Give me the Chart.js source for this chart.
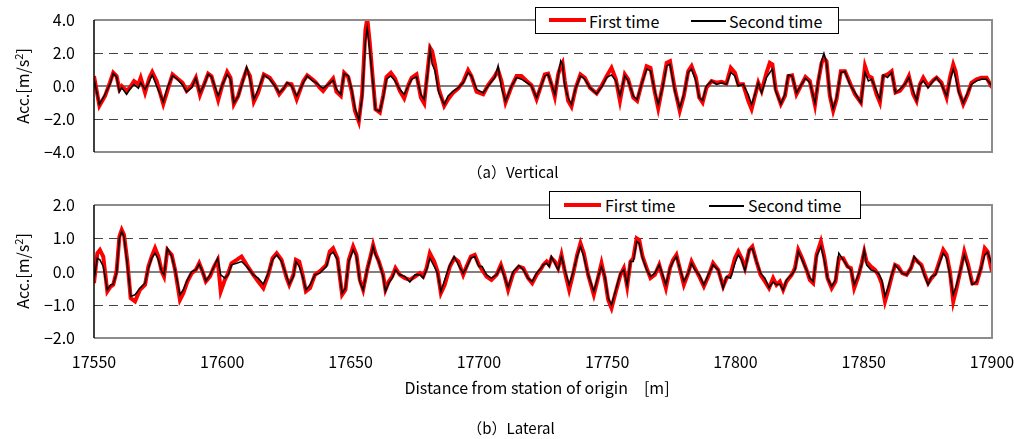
<!DOCTYPE html>
<html>
<head>
<meta charset="utf-8">
<script src="https://cdn.jsdelivr.net/npm/chart.js@4.4.0/dist/chart.umd.min.js"></script>
<style>
  body { margin: 0; background: #fff; font-family: "Noto Sans CJK JP", "Noto Sans", sans-serif; color: #000; }
  #page { position: relative; width: 1014px; height: 439px; overflow: hidden; }
  canvas { position: absolute; left: 0; }
  .ytitle { position: absolute; left: 22px; font-size: 16px; white-space: nowrap; transform: translate(-50%, -50%) rotate(-90deg); }
  .ytitle sup { font-size: 11px; vertical-align: 6px; line-height: 0; }
  .caption { position: absolute; font-size: 15px; white-space: nowrap; transform: translate(-50%, -50%); }
  .legend { position: absolute; border: 1px solid #000; background: #fff; box-sizing: border-box; }
  .legend .ln { position: absolute; }
  .legend .tx { position: absolute; top: 50%; transform: translateY(-50%); font-size: 16px; white-space: nowrap; }
</style>
</head>
<body>
<div id="page">
  <canvas id="chartA" width="1014" height="175" style="top:0"></canvas>
  <canvas id="chartB" width="1014" height="264" style="top:175px"></canvas>

  <div class="ytitle" style="top:86px">Acc.[m/s<sup>2</sup>]</div>
  <div class="ytitle" style="top:271px">Acc.[m/s<sup>2</sup>]</div>

  <div class="caption" style="left:513px; top:171px">（a）Vertical</div>
  <div class="caption" style="left:537px; top:387px; font-size:16px">Distance from station of origin　[m]</div>
  <div class="caption" style="left:511px; top:427px">（b）Lateral</div>

  <div class="legend" style="left:535px; top:7px; width:304px; height:27px">
    <div class="ln" style="left:13px; top:10px; width:37px; height:4px; background:#ff0000"></div>
    <div class="tx" style="left:53px">First time</div>
    <div class="ln" style="left:155px; top:12px; width:35px; height:1.5px; background:#000"></div>
    <div class="tx" style="left:193px">Second time</div>
  </div>
  <div class="legend" style="left:549px; top:191px; width:312px; height:28px">
    <div class="ln" style="left:14px; top:11px; width:37px; height:4px; background:#ff0000"></div>
    <div class="tx" style="left:55px">First time</div>
    <div class="ln" style="left:159px; top:13px; width:35px; height:1.5px; background:#000"></div>
    <div class="tx" style="left:198px">Second time</div>
  </div>
</div>

<script>
// Distance axis
const xMin = 17550;
const xMax = 17900;
const xStep = 50;

// (a) Vertical acceleration
const distA = [
  17550, 17552.1, 17554.3, 17556.2, 17557.5, 17558.8, 17559.9, 17560.8, 17562.7, 17564,
  17565.6, 17567.3, 17568.2, 17569.9, 17571.6, 17572.7, 17574.4, 17577, 17578.6, 17580.6,
  17582.5, 17584.5, 17586.1, 17588.1, 17589.7, 17591.3, 17592.9, 17594.5, 17595.8, 17598.4,
  17600.1, 17601.9, 17603.2, 17604.5, 17606.2, 17607.9, 17609.5, 17610.8, 17612.3, 17614,
  17616.2, 17618.5, 17620.5, 17622.2, 17623.7, 17625.3, 17627, 17629, 17631.6, 17633.1,
  17635.2, 17636.5, 17638, 17639.3, 17641.3, 17643.2, 17644.5, 17646.2, 17647.5, 17649.1,
  17650.4, 17651.7, 17653.2, 17654.5, 17655.8, 17656.5, 17657.5, 17658.4, 17659.7, 17661.4,
  17662.7, 17664, 17665.7, 17667.3, 17669.2, 17670.9, 17672.5, 17673.8, 17675.7, 17677.4,
  17678.7, 17680, 17681, 17681.8, 17682.9, 17684.4, 17686.5, 17688, 17690, 17692,
  17693.9, 17695.8, 17697.1, 17699.1, 17701.7, 17703.6, 17706.2, 17707.5, 17708.8, 17710.4,
  17712.7, 17714.7, 17716.6, 17718.6, 17720.5, 17722.5, 17724, 17725.7, 17727, 17728.3,
  17729.6, 17730.9, 17731.9, 17732.6, 17733.5, 17734.8, 17736.1, 17737.8, 17739.6, 17741.3,
  17743.3, 17745.9, 17747.8, 17749.8, 17751.7, 17753.4, 17755, 17756.9, 17758.2, 17760.2,
  17761.7, 17763.4, 17765.4, 17766.9, 17768.6, 17769.9, 17771.6, 17773.2, 17774.5, 17776.4,
  17778.3, 17779.9, 17781.6, 17782.9, 17784.6, 17785.9, 17787.2, 17788.7, 17790.7, 17792.6,
  17794.6, 17796.5, 17798.2, 17799.8, 17801.1, 17803, 17805, 17806.3, 17807.6, 17808.9,
  17810.2, 17812.1, 17813.4, 17814.4, 17815.7, 17817.7, 17819.3, 17820.6, 17822.1, 17823.8,
  17825.8, 17827.3, 17829, 17831, 17832.3, 17833.6, 17834.5, 17835.5, 17836.8, 17838.1,
  17839.4, 17841.1, 17842.7, 17844.6, 17846.6, 17848.9, 17850.5, 17851.8, 17853.1, 17855,
  17856.3, 17857.6, 17859.3, 17860.9, 17862.4, 17864.1, 17866, 17867.6, 17869.3, 17870.6,
  17871.9, 17873.2, 17875.1, 17877.1, 17878.4, 17880.3, 17882.3, 17883.6, 17884.9, 17885.8,
  17887.1, 17888.8, 17890.5, 17892, 17894, 17895.9, 17897.9, 17900
];
const firstA = [
  0.6, -1.2, -0.6, 0.2, 0.8, 0.6, -0.2, 0, -0.3, -0.1,
  0.3, 0.1, 0.5, -0.4, 0.5, 0.85, 0.3, -1.1, -0.3, 0.7,
  0.45, 0.2, -0.3, 0, 0.5, -0.55, 0.1, 0.75, 0.6, -0.85,
  0.1, 0.85, 0.5, -1.1, -0.6, 0.3, 1.0, 0.6, -0.95, -0.4,
  0.7, 0.5, 0.05, -0.5, -0.2, 0.15, 0.1, -0.8, 0.3, 0.65,
  0.4, 0.2, -0.1, -0.3, 0.1, 0.45, -0.35, -0.6, 0.8, 0.55,
  -0.3, -1.5, -2.15, -0.5, 3.4, 4.1, 2.6, 0.9, -1.4, -1.6,
  -0.6, 0.55, 0.8, 0.45, -0.3, -0.75, 0.05, 0.5, 0.7, -0.7,
  -1.05, 0.9, 2.3, 2.1, 1.3, -0.2, -1.2, -0.8, -0.4, -0.15,
  0.25, 0.95, 0.6, -0.35, -0.5, 0.05, 0.6, 0.95, 0.3, -1.0,
  -0.05, 0.6, 0.6, 0.3, 0.05, -0.8, -0.1, 0.7, 0.75, 0.1,
  -0.65, 0.7, 1.2, 1.4, 0.3, -0.9, -1.25, -0.1, 0.7, 0.5,
  -0.1, -0.45, 0, 0.6, 1.1, 0.4, -0.9, 0.7, 0.4, -0.7,
  -0.9, 0.1, 1.2, 1.1, -0.4, -1.35, 0, 1.4, 1.5, -0.2,
  -1.5, -0.6, 0.9, 1.2, 0.5, -0.7, -1.0, -0.1, 0.3, 0.2,
  0.25, 0.15, 1.1, 0.8, 0.1, 0.1, -0.9, -1.4, -0.6, 0.2,
  -0.3, 0.8, 1.4, 1.3, -0.2, -1.1, -0.6, 0.6, 0.65, -0.5,
  0.1, 0.55, 0.3, -1.15, 0.3, 1.4, 1.7, 1.5, -0.6, -1.5,
  -0.8, 0.9, 0.9, 0.2, -0.5, -1.0, 1.2, 0.6, 0.5, -0.5,
  -1.0, 0.6, 0.7, 0.9, -0.4, -0.3, 0.1, 0.6, -0.5, -0.9,
  0.1, 0.5, 0, 0.35, 0.5, 0.2, -0.7, 0.5, 1.3, 0.9,
  -0.3, -1.1, -0.5, 0.2, 0.4, 0.5, 0.5, -0.1
];
const secondA = [
  0.41, -1.12, -0.51, 0.1, 0.76, 0.55, -0.35, -0.1, -0.51, -0.2,
  0.1, -0.14, 0.2, -0.2, 0.3, 0.67, 0, -0.96, -0.1, 0.63,
  0.41, 0.06, -0.35, -0.1, 0.47, -0.41, 0.06, 0.71, 0.55, -0.61,
  0.1, 0.71, 0.41, -1.02, -0.61, 0.2, 1.16, 0.41, -0.82, -0.2,
  0.67, 0.41, 0, -0.41, -0.2, 0.2, 0, -0.61, 0.2, 0.61,
  0.31, 0.2, 0, -0.14, 0.1, 0.35, -0.2, -0.51, 0.76, 0.61,
  -0.2, -1.33, -2.04, -0.71, 2.76, 3.5, 2.14, 0.71, -1.43, -1.53,
  -0.71, 0.41, 0.61, 0.31, -0.2, -0.51, 0, 0.41, 0.55, -0.51,
  -0.82, 0.71, 2.24, 1.33, 0.92, -0.41, -1.12, -0.61, -0.31, -0.1,
  0.2, 0.82, 0.61, -0.2, -0.41, 0, 0.51, 1.22, -0.1, -0.92,
  0, 0.51, 0.41, 0.2, 0, -0.71, -0.1, 0.61, 0.71, 0.1,
  -0.51, 0.61, 1.53, 1.33, 0, -0.71, -1.12, -0.1, 0.61, 0.41,
  -0.1, -0.47, -0.06, 0.51, 0.67, 0.31, -0.61, 0.61, 0.31, -0.61,
  -0.82, 0.1, 1.02, 0.92, -0.31, -1.12, -0.1, 1.22, 1.33, -0.31,
  -1.33, -0.51, 0.82, 1.02, 0.31, -0.71, -0.88, 0, 0.31, 0.1,
  0.2, 0.1, 0.82, 0.61, 0, 0.1, -0.51, -1.12, -0.51, 0.2,
  -0.41, 0.51, 0.82, 1.02, -0.31, -1.08, -0.51, 0.67, 0.61, -0.41,
  0.1, 0.47, 0.2, -1.02, 0.31, 1.53, 1.98, 1.43, -0.51, -1.37,
  -0.71, 0.82, 0.88, 0.1, -0.41, -1.02, 0.82, 0.31, 0.41, -0.31,
  -0.82, 0.67, 0.51, 0.82, -0.41, -0.2, 0.1, 0.51, -0.31, -0.88,
  0.1, 0.31, -0.1, 0.31, 0.51, 0.1, -0.61, 0.31, 1.02, 0.51,
  -0.41, -1.02, -0.41, 0.1, 0.31, 0.41, 0.41, 0
];

// (b) Lateral acceleration
const distB = [
  17550, 17551.3, 17552.3, 17553.6, 17555.2, 17556.5, 17557.5, 17558.8, 17559.9, 17560.8,
  17561.7, 17563, 17564.3, 17566, 17567.9, 17569.9, 17571.2, 17572.5, 17573.8, 17575.1,
  17576.4, 17577.3, 17578.6, 17580.3, 17581.6, 17583.5, 17584.8, 17586.4, 17588.1, 17589.7,
  17591, 17592.3, 17593.6, 17595.2, 17596.8, 17598.2, 17599.4, 17601, 17602.3, 17603.6,
  17605.6, 17607.5, 17609.5, 17612.1, 17614, 17616, 17617.9, 17619.6, 17621.2, 17623.1,
  17625.1, 17626.1, 17627.7, 17628.7, 17630, 17631.3, 17632.6, 17634.2, 17636.1, 17638,
  17639.3, 17640.6, 17641.9, 17643.2, 17644.9, 17646.7, 17648, 17649.3, 17651, 17652.3,
  17653.6, 17654.9, 17656.6, 17657.9, 17658.8, 17659.7, 17661, 17662.7, 17663.6, 17664.9,
  17666.2, 17667.5, 17669.2, 17671.2, 17673.1, 17675.1, 17677, 17678.3, 17679.6, 17680.9,
  17682.6, 17683.9, 17685.2, 17686.7, 17688.7, 17690.4, 17692, 17693.9, 17695.2, 17696.9,
  17698.4, 17700, 17701.3, 17703, 17704.9, 17706.9, 17708.6, 17709.9, 17711.4, 17713.4,
  17715.6, 17717.3, 17719.2, 17720.8, 17722.5, 17724.4, 17725.1, 17726.4, 17727.4, 17728.3,
  17729.6, 17730.9, 17732.2, 17733.5, 17735.2, 17736.8, 17738.3, 17739.6, 17740.9, 17742.6,
  17744.8, 17746.1, 17747.8, 17749.1, 17750.4, 17751.7, 17753.4, 17755.2, 17756.5, 17757.8,
  17759.1, 17760.2, 17761.5, 17762.5, 17763.8, 17765.4, 17766.9, 17768.6, 17770.3, 17771.6,
  17772.9, 17774.5, 17775.7, 17777, 17778.3, 17779.9, 17781.6, 17782.9, 17784.2, 17785.9,
  17787.7, 17789.4, 17791.3, 17793.3, 17795.2, 17796.5, 17798.1, 17799.8, 17801.1, 17802.4,
  17803.7, 17805.4, 17806.6, 17808.2, 17809.8, 17811.5, 17813.1, 17814.7, 17816, 17817.3,
  17818.6, 17819.9, 17821.9, 17823.2, 17824.5, 17826, 17827.7, 17829, 17830.3, 17831.6,
  17833.3, 17834.6, 17835.9, 17837.5, 17839, 17840.3, 17842, 17843.7, 17845, 17846.3,
  17847.9, 17849.2, 17850.2, 17851.1, 17852.8, 17854.4, 17855.7, 17857, 17858.3, 17859.6,
  17860.9, 17862.2, 17863.4, 17865, 17866.7, 17868.4, 17869.7, 17871, 17872.5, 17873.8,
  17875.1, 17876.4, 17878, 17879.3, 17881, 17882.3, 17883.6, 17884.9, 17886.2, 17887.9,
  17889.2, 17890.7, 17892.3, 17894, 17895.7, 17897.2, 17898.3, 17900
];
const firstB = [
  -0.35, 0.55, 0.65, 0.45, -0.6, -0.45, -0.4, 0, 1.05, 1.25,
  1.1, 0.3, -0.8, -0.9, -0.55, -0.4, 0.15, 0.45, 0.7, 0.45,
  0, -0.15, 0.65, 0.5, 0.05, -0.85, -0.65, -0.3, -0.05, 0.05,
  0.25, 0, -0.3, -0.15, 0.15, 0.35, -0.6, -0.25, -0.05, 0.25,
  0.35, 0.45, 0.2, -0.1, -0.3, -0.5, -0.1, 0.4, 0.55, 0.35,
  -0.2, -0.4, -0.1, 0.35, 0.3, -0.1, -0.6, -0.5, -0.1, 0,
  0.1, 0.2, 0.6, 0.7, 0.4, -0.7, -0.55, 0.35, 0.75, 0.5,
  -0.25, -0.55, 0.1, 0.5, 0.8, 0.55, 0.3, -0.1, -0.55, -0.3,
  -0.15, 0.1, -0.1, -0.2, -0.25, -0.15, -0.05, -0.15, 0.1, 0.55,
  0.3, 0, -0.65, -0.4, 0.15, 0.4, 0.3, -0.1, 0.15, 0.45,
  0.5, 0.2, 0.05, -0.15, -0.25, -0.1, 0.2, -0.1, -0.55, -0.05,
  0.15, 0.1, -0.2, -0.35, -0.1, 0.1, 0.2, 0.3, 0.2, 0.4,
  0.3, 0.1, 0.5, 0, -0.55, -0.05, 0.5, 0.85, 0.55, -0.1,
  -0.7, -0.3, 0.25, -0.2, -0.85, -1.1, -0.6, -0.1, 0.1, -0.45,
  0.3, 0.4, 1.0, 0.95, 0.45, 0.1, -0.2, -0.1, 0.2, -0.15,
  -0.5, 0.1, 0.35, 0.5, 0.1, -0.4, -0.05, 0.3, 0.1, -0.15,
  -0.45, -0.15, 0.25, 0.05, -0.45, -0.2, -0.1, 0.4, 0.6, 0.4,
  0.1, 0.65, 0.75, 0.3, -0.1, -0.3, -0.5, -0.2, -0.4, -0.3,
  -0.55, -0.3, -0.1, 0.1, 0.65, 0.4, 0.05, -0.25, -0.35, 0.5,
  0.9, 0.45, -0.2, -0.5, -0.3, 0.4, 0.4, 0.15, 0.1, -0.5,
  -0.15, 0.25, 0.6, 0.3, 0.15, 0.05, -0.1, -0.35, -0.9, -0.55,
  -0.15, 0.2, 0.15, -0.05, -0.1, 0.1, 0.4, 0.3, 0.2, -0.1,
  -0.35, -0.2, -0.05, 0.25, 0.65, 0.5, 0, -0.9, -0.5, 0.1,
  0.6, 0.2, -0.35, -0.35, 0.1, 0.7, 0.6, 0
];
const secondB = [
  -0.25, 0.4, 0.35, 0.15, -0.55, -0.4, -0.38, -0.05, 1.0, 1.2,
  1.05, 0.2, -0.75, -0.7, -0.5, -0.35, 0.1, 0.4, 0.55, 0.35,
  0, -0.1, 0.7, 0.45, 0.05, -0.7, -0.55, -0.25, 0, 0.05,
  0.22, 0, -0.28, -0.1, 0.15, 0.4, -0.1, -0.2, -0.1, 0.2,
  0.25, 0.3, 0.15, -0.1, -0.2, -0.38, -0.05, 0.35, 0.5, 0.3,
  -0.15, -0.38, -0.15, 0.3, 0.15, -0.15, -0.55, -0.4, -0.1, -0.05,
  0.05, 0.15, 0.5, 0.58, 0.35, -0.65, -0.5, 0.3, 0.65, 0.45,
  -0.3, -0.55, 0.1, 0.45, 0.75, 0.5, 0.3, -0.15, -0.6, -0.35,
  -0.2, 0.05, -0.1, -0.15, -0.32, -0.1, -0.1, -0.2, 0.05, 0.4,
  0.15, -0.05, -0.6, -0.25, 0.2, 0.45, 0.2, -0.05, 0.12, 0.4,
  0.45, 0.15, 0.15, -0.1, -0.2, -0.1, 0.15, -0.15, -0.48, 0,
  0.18, 0.05, -0.2, -0.3, -0.05, 0.12, 0.2, 0.25, 0.15, 0.45,
  0.25, 0.05, 0.45, 0.05, -0.4, 0, 0.45, 0.75, 0.45, -0.1,
  -0.6, -0.25, 0.15, -0.15, -0.8, -1.0, -0.55, -0.05, 0.05, -0.4,
  0.3, 0.3, 0.9, 0.85, 0.4, 0.05, -0.15, -0.05, 0.2, -0.1,
  -0.4, 0.1, 0.3, 0.45, 0.1, -0.3, -0.05, 0.25, 0.05, -0.1,
  -0.4, -0.1, 0.2, 0.05, -0.5, -0.15, -0.2, 0.25, 0.5, 0.35,
  0.02, 0.65, 0.7, 0.3, -0.05, -0.2, -0.48, -0.32, -0.4, -0.38,
  -0.55, -0.25, -0.1, 0.05, 0.6, 0.35, 0.05, -0.2, -0.3, 0.45,
  0.75, 0.35, -0.2, -0.45, -0.25, 0.55, 0.35, 0.15, 0.05, -0.4,
  -0.1, 0.2, 0.65, 0.2, 0.05, 0, -0.05, -0.25, -0.75, -0.45,
  -0.1, 0.2, 0.1, -0.05, -0.1, 0.1, 0.45, 0.3, 0.15, -0.15,
  -0.4, -0.15, -0.1, 0.2, 0.55, 0.4, -0.1, -0.7, -0.4, 0.1,
  0.5, 0.1, -0.4, -0.3, 0.1, 0.5, 0.58, 0.2
];

// Plot area frame, zero line and dashed grid lines
const frameLines = {
    id: 'frameLines',
    beforeDatasetsDraw(chart, args, opts) {
        const { ctx, chartArea: a, scales: { y } } = chart;
        ctx.save();
        ctx.strokeStyle = '#444';
        ctx.lineWidth = 1;
        ctx.setLineDash([9, 6]);
        opts.dashed.forEach(v => {
            const py = Math.round(y.getPixelForValue(v)) + 0.5;
            ctx.beginPath();
            ctx.moveTo(a.left, py);
            ctx.lineTo(a.right, py);
            ctx.stroke();
        });
        ctx.setLineDash([]);
        ctx.strokeStyle = '#808080';
        ctx.lineWidth = 2;
        const z = Math.round(y.getPixelForValue(0));
        ctx.beginPath();
        ctx.moveTo(a.left, z);
        ctx.lineTo(a.right, z);
        ctx.stroke();
        ctx.restore();
    },
    afterDatasetsDraw(chart) {
        const { ctx, chartArea: a } = chart;
        ctx.save();
        ctx.strokeStyle = '#8c8c8c';
        ctx.lineWidth = 2;
        ctx.beginPath();
        ctx.moveTo(a.left, a.top);
        ctx.lineTo(a.right, a.top);
        ctx.lineTo(a.right, a.bottom);
        ctx.lineTo(a.left, a.bottom);
        ctx.stroke();
        ctx.strokeStyle = '#000';
        ctx.lineWidth = 1.5;
        ctx.beginPath();
        ctx.moveTo(a.left, a.top);
        ctx.lineTo(a.left, a.bottom);
        ctx.stroke();
        ctx.restore();
    }
};

const fmt = v => v.toFixed(1).replace('-', '\u2212');

function makeChart(id, dist, first, second, cfg) {
    const ctx = document.getElementById(id).getContext('2d');
    return new Chart(ctx, {
        type: 'line',
        data: {
            datasets: [{
                label: 'First time',
                data: dist.map((d, i) => ({ x: d, y: first[i] })),
                borderColor: '#ff0000',
                borderWidth: 4,
                pointRadius: 0,
                order: 2
            }, {
                label: 'Second time',
                data: dist.map((d, i) => ({ x: d, y: second[i] })),
                borderColor: '#000000',
                borderWidth: 1.5,
                pointRadius: 0,
                order: 1
            }]
        },
        plugins: [frameLines],
        options: {
            responsive: false,
            animation: false,
            devicePixelRatio: 1,
            layout: { padding: cfg.padding },
            plugins: {
                legend: { display: false },
                tooltip: { enabled: false },
                frameLines: { dashed: cfg.dashed }
            },
            scales: {
                x: {
                    type: 'linear',
                    min: xMin,
                    max: xMax,
                    grid: { display: false, drawTicks: false },
                    border: { display: false },
                    ticks: {
                        display: cfg.showX,
                        stepSize: xStep,
                        autoSkip: false,
                        maxRotation: 0,
                        padding: 14,
                        color: '#000',
                        font: { family: '"Noto Sans CJK JP", sans-serif', size: 16 },
                        callback: v => String(v)
                    },
                    afterFit: s => { s.height = cfg.xHeight; s.paddingLeft = 0; s.paddingRight = 0; }
                },
                y: {
                    min: cfg.yMin,
                    max: cfg.yMax,
                    grid: { display: false, drawTicks: false },
                    border: { display: false },
                    ticks: {
                        stepSize: cfg.yStep,
                        padding: 19,
                        color: '#000',
                        font: { family: '"Noto Sans CJK JP", sans-serif', size: 16 },
                        callback: v => fmt(v)
                    },
                    afterFit: s => { s.width = 94; s.paddingTop = 0; s.paddingBottom = 0; }
                }
            }
        }
    });
}

makeChart('chartA', distA, firstA, secondA, {
    yMin: -4, yMax: 4, yStep: 2, dashed: [2, -2],
    showX: false, xHeight: 0,
    padding: { left: 0, right: 22, top: 20, bottom: 23 }
});

makeChart('chartB', distB, firstB, secondB, {
    yMin: -2, yMax: 2, yStep: 1, dashed: [1, -1],
    showX: true, xHeight: 34,
    padding: { left: 0, right: 22, top: 30, bottom: 67 }
});
</script>
</body>
</html>
